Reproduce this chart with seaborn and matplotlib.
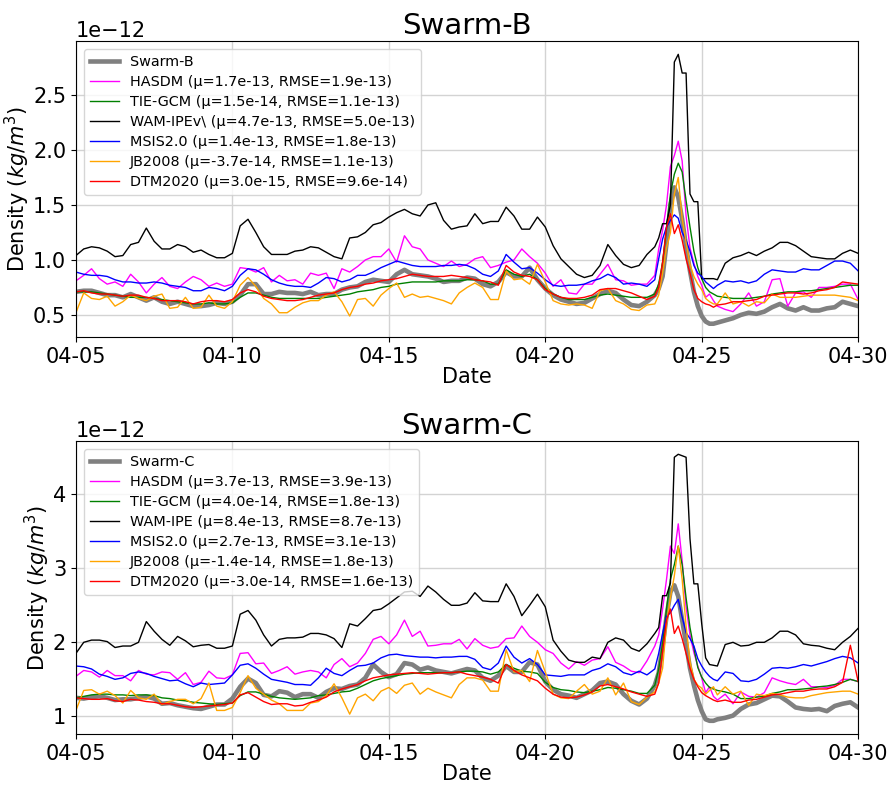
import numpy as np
import pandas as pd
import matplotlib
matplotlib.use("Agg")
import matplotlib.pyplot as plt
import matplotlib.dates as mdates
from matplotlib.ticker import MultipleLocator
import seaborn as sns

# ---------------- data (values in units of 1e-12 kg/m^3) ----------------
start = pd.Timestamp("2023-04-05")
hours = list(range(0, 444, 6)) + list(range(444, 493, 3)) + list(range(498, 601, 6))
times = start + pd.to_timedelta(hours, unit="h")

swarm_b = [0.71, 0.72, 0.72, 0.70, 0.68, 0.68, 0.66, 0.69, 0.66, 0.63, 0.66, 0.62, 0.60, 0.62, 0.60, 0.58, 0.58, 0.59, 0.61, 0.60, 0.62, 0.68, 0.78, 0.78, 0.69, 0.69, 0.71, 0.70, 0.70, 0.69, 0.71, 0.68, 0.69, 0.69, 0.73, 0.75, 0.76,
           0.80, 0.82, 0.81, 0.80, 0.87, 0.91, 0.87, 0.86, 0.85, 0.83, 0.80, 0.81, 0.81, 0.84, 0.83, 0.78, 0.76, 0.80, 0.89, 0.85, 0.85, 0.93, 0.82, 0.74, 0.68, 0.64, 0.62, 0.60, 0.61, 0.65,
           0.69, 0.72, 0.70, 0.64, 0.59, 0.58, 0.62,
           0.68, 0.74, 0.85, 1.15, 1.50, 1.66, 1.57, 1.37, 1.12, 0.90, 0.71, 0.58, 0.49, 0.44, 0.42, 0.42, 0.43,
           0.45, 0.47, 0.50, 0.52, 0.51, 0.53, 0.57, 0.60, 0.56, 0.54, 0.57, 0.54, 0.54, 0.56, 0.57, 0.62, 0.60, 0.58]
hasdm_b = [0.81, 0.86, 0.92, 0.83, 0.78, 0.80, 0.76, 0.87, 0.80, 0.70, 0.78, 0.84, 0.76, 0.74, 0.80, 0.85, 0.82, 0.76, 0.79, 0.76, 0.78, 0.93, 0.92, 0.89, 0.93, 0.80, 0.86, 0.81, 0.82, 0.78, 0.88, 0.86, 0.88, 0.74, 0.92, 0.89, 0.94,
           1.00, 1.03, 1.03, 1.10, 0.98, 1.22, 1.12, 1.10, 1.00, 0.97, 0.94, 0.99, 0.94, 0.96, 1.01, 1.03, 0.93, 0.95, 0.98, 1.00, 1.10, 1.03, 0.97, 0.88, 0.76, 0.82, 0.70, 0.69, 0.78, 0.78,
           0.87, 0.96, 0.82, 0.81, 0.77, 0.78, 0.78,
           0.86, 1.10, 1.27, 1.50, 1.85, 1.95, 2.08, 1.90, 1.40, 1.11, 0.97, 0.85, 0.77, 0.66, 0.69, 0.63, 0.58,
           0.55, 0.53, 0.60, 0.70, 0.58, 0.62, 0.82, 0.83, 0.58, 0.70, 0.71, 0.66, 0.75, 0.75, 0.76, 0.78, 0.78, 0.64]
tiegcm_b = [0.71, 0.71, 0.71, 0.70, 0.69, 0.68, 0.67, 0.66, 0.66, 0.66, 0.65, 0.64, 0.63, 0.62, 0.61, 0.60, 0.60, 0.61, 0.60, 0.60, 0.61, 0.66, 0.70, 0.70, 0.68, 0.66, 0.65, 0.65, 0.65, 0.65, 0.65, 0.65, 0.66, 0.67, 0.68, 0.69, 0.71,
            0.72, 0.73, 0.75, 0.76, 0.78, 0.79, 0.80, 0.80, 0.80, 0.80, 0.81, 0.81, 0.81, 0.82, 0.82, 0.81, 0.78, 0.78, 0.91, 0.87, 0.85, 0.87, 0.82, 0.74, 0.69, 0.66, 0.64, 0.64, 0.64, 0.66,
            0.68, 0.69, 0.68, 0.67, 0.66, 0.66, 0.66,
            0.69, 0.78, 0.98, 1.28, 1.60, 1.78, 1.88, 1.80, 1.54, 1.30, 1.08, 0.93, 0.83, 0.75, 0.71, 0.69, 0.67,
            0.66, 0.65, 0.65, 0.65, 0.66, 0.67, 0.69, 0.70, 0.71, 0.71, 0.72, 0.72, 0.73, 0.74, 0.75, 0.76, 0.77, 0.77]
wam_b = [1.04, 1.10, 1.12, 1.11, 1.08, 1.03, 1.04, 1.14, 1.16, 1.29, 1.17, 1.10, 1.10, 1.14, 1.12, 1.07, 1.09, 1.05, 1.02, 1.02, 1.06, 1.31, 1.37, 1.25, 1.12, 1.05, 1.05, 1.05, 1.08, 1.09, 1.12, 1.11, 1.07, 1.03, 1.01, 1.20, 1.21,
         1.25, 1.32, 1.34, 1.39, 1.43, 1.46, 1.42, 1.40, 1.50, 1.52, 1.36, 1.28, 1.30, 1.31, 1.42, 1.33, 1.35, 1.35, 1.48, 1.40, 1.28, 1.28, 1.39, 1.30, 1.13, 1.01, 0.94, 0.87, 0.84, 0.86,
         0.95, 1.14, 1.04, 0.96, 0.93, 0.95, 1.05,
         1.12, 1.20, 1.33, 1.33, 1.50, 2.80, 2.87, 2.70, 2.70, 1.60, 1.53, 1.53, 0.83, 0.83, 0.83, 0.83, 0.82,
         0.97, 1.02, 1.04, 1.07, 1.04, 1.08, 1.11, 1.16, 1.16, 1.13, 1.08, 1.03, 1.02, 1.01, 1.01, 1.06, 1.09, 1.06]
msis_b = [0.89, 0.87, 0.86, 0.86, 0.85, 0.82, 0.80, 0.80, 0.79, 0.79, 0.80, 0.79, 0.77, 0.76, 0.75, 0.72, 0.72, 0.75, 0.74, 0.72, 0.76, 0.86, 0.92, 0.91, 0.87, 0.82, 0.79, 0.77, 0.76, 0.76, 0.75, 0.79, 0.84, 0.83, 0.80, 0.82, 0.86,
          0.86, 0.89, 0.93, 0.96, 0.99, 0.97, 0.95, 0.94, 0.94, 0.94, 0.95, 0.95, 0.96, 0.95, 0.92, 0.87, 0.85, 0.90, 1.05, 0.98, 0.92, 0.93, 0.88, 0.82, 0.77, 0.76, 0.77, 0.77, 0.78, 0.81,
          0.83, 0.87, 0.84, 0.78, 0.79, 0.78, 0.76,
          0.82, 1.01, 1.19, 1.30, 1.36, 1.41, 1.38, 1.25, 1.18, 1.08, 0.95, 0.88, 0.85, 0.80, 0.77, 0.74, 0.77,
          0.81, 0.80, 0.81, 0.79, 0.81, 0.87, 0.91, 0.90, 0.89, 0.89, 0.92, 0.91, 0.91, 0.95, 0.99, 0.99, 0.97, 0.90]
jb_b = [0.52, 0.70, 0.65, 0.64, 0.67, 0.58, 0.62, 0.68, 0.65, 0.63, 0.67, 0.69, 0.56, 0.57, 0.66, 0.56, 0.57, 0.68, 0.58, 0.56, 0.62, 0.77, 0.84, 0.76, 0.65, 0.60, 0.52, 0.52, 0.57, 0.61, 0.63, 0.63, 0.68, 0.71, 0.62, 0.49, 0.64,
        0.65, 0.58, 0.68, 0.74, 0.79, 0.66, 0.69, 0.66, 0.67, 0.65, 0.63, 0.60, 0.70, 0.75, 0.79, 0.75, 0.64, 0.64, 0.90, 0.82, 0.83, 0.78, 0.96, 0.80, 0.63, 0.60, 0.59, 0.60, 0.59, 0.56,
        0.72, 0.74, 0.63, 0.60, 0.55, 0.54, 0.59,
        0.60, 0.68, 0.88, 1.11, 1.25, 1.60, 1.75, 1.38, 1.16, 0.96, 0.85, 0.78, 0.73, 0.65, 0.62, 0.60, 0.60,
        0.70, 0.60, 0.62, 0.58, 0.62, 0.61, 0.69, 0.66, 0.66, 0.66, 0.67, 0.68, 0.68, 0.68, 0.68, 0.67, 0.66, 0.63]
dtm_b = [0.71, 0.72, 0.70, 0.69, 0.69, 0.68, 0.67, 0.68, 0.68, 0.66, 0.65, 0.63, 0.63, 0.63, 0.62, 0.60, 0.62, 0.63, 0.63, 0.62, 0.64, 0.70, 0.73, 0.71, 0.67, 0.65, 0.64, 0.63, 0.63, 0.64, 0.66, 0.68, 0.69, 0.70, 0.73, 0.75, 0.76,
         0.78, 0.79, 0.81, 0.82, 0.83, 0.85, 0.87, 0.86, 0.85, 0.85, 0.85, 0.86, 0.85, 0.84, 0.82, 0.81, 0.80, 0.77, 0.95, 0.89, 0.86, 0.85, 0.82, 0.73, 0.69, 0.66, 0.65, 0.65, 0.66, 0.68,
         0.73, 0.74, 0.74, 0.72, 0.70, 0.67, 0.64,
         0.67, 0.75, 0.98, 1.30, 1.42, 1.24, 1.32, 1.18, 1.01, 0.88, 0.73, 0.65, 0.62, 0.60, 0.59, 0.57, 0.59,
         0.60, 0.62, 0.62, 0.63, 0.64, 0.67, 0.68, 0.69, 0.70, 0.70, 0.69, 0.70, 0.72, 0.73, 0.75, 0.80, 0.79, 0.78]

swarm_c = [1.25, 1.24, 1.26, 1.27, 1.25, 1.22, 1.23, 1.23, 1.25, 1.27, 1.24, 1.17, 1.18, 1.15, 1.13, 1.11, 1.10, 1.13, 1.16, 1.16, 1.24, 1.40, 1.51, 1.45, 1.29, 1.27, 1.34, 1.32, 1.26, 1.30, 1.30, 1.25, 1.33, 1.38, 1.37, 1.41, 1.43,
           1.52, 1.70, 1.60, 1.53, 1.57, 1.72, 1.70, 1.63, 1.66, 1.62, 1.60, 1.58, 1.61, 1.64, 1.62, 1.52, 1.48, 1.55, 1.68, 1.60, 1.60, 1.73, 1.70, 1.47, 1.36, 1.30, 1.28, 1.25, 1.30, 1.35,
           1.45, 1.47, 1.43, 1.30, 1.21, 1.16, 1.24,
           1.42, 1.59, 1.95, 2.35, 2.68, 2.77, 2.62, 2.30, 1.98, 1.65, 1.42, 1.22, 1.07, 0.96, 0.94, 0.94, 0.96,
           0.98, 1.01, 1.10, 1.16, 1.18, 1.23, 1.28, 1.27, 1.20, 1.12, 1.10, 1.09, 1.10, 1.07, 1.14, 1.17, 1.19, 1.12]
hasdm_c = [1.54, 1.62, 1.60, 1.53, 1.62, 1.55, 1.55, 1.48, 1.62, 1.57, 1.56, 1.60, 1.59, 1.50, 1.59, 1.43, 1.46, 1.61, 1.52, 1.51, 1.56, 1.85, 1.86, 1.71, 1.72, 1.58, 1.62, 1.67, 1.57, 1.60, 1.62, 1.60, 1.52, 1.70, 1.78, 1.67, 1.72,
           1.85, 2.04, 2.08, 1.98, 2.10, 2.30, 2.08, 2.15, 1.95, 1.96, 1.98, 1.98, 2.04, 1.91, 2.05, 1.96, 1.92, 1.94, 2.05, 2.06, 2.22, 2.08, 2.00, 1.90, 1.85, 1.72, 1.64, 1.74, 1.69, 1.76,
           1.78, 1.94, 1.73, 1.68, 1.61, 1.59, 1.75,
           1.95, 2.10, 2.45, 2.85, 3.30, 3.20, 3.60, 3.10, 2.48, 2.10, 1.86, 1.68, 1.52, 1.32, 1.40, 1.27, 1.22,
           1.30, 1.17, 1.33, 1.27, 1.26, 1.32, 1.52, 1.48, 1.45, 1.43, 1.50, 1.40, 1.40, 1.39, 1.42, 1.50, 1.50, 1.47]
tiegcm_c = [1.25, 1.27, 1.29, 1.30, 1.30, 1.29, 1.29, 1.28, 1.29, 1.29, 1.28, 1.25, 1.24, 1.22, 1.21, 1.19, 1.18, 1.17, 1.16, 1.17, 1.18, 1.28, 1.33, 1.33, 1.30, 1.27, 1.25, 1.24, 1.23, 1.24, 1.25, 1.28, 1.29, 1.31, 1.33, 1.34, 1.38,
            1.43, 1.48, 1.51, 1.53, 1.55, 1.57, 1.58, 1.59, 1.59, 1.59, 1.59, 1.59, 1.60, 1.61, 1.61, 1.60, 1.57, 1.60, 1.70, 1.65, 1.61, 1.60, 1.58, 1.46, 1.39, 1.36, 1.35, 1.33, 1.32, 1.34,
            1.36, 1.39, 1.38, 1.36, 1.34, 1.31, 1.31,
            1.42, 1.64, 1.98, 2.45, 2.85, 3.05, 3.30, 3.05, 2.60, 2.20, 1.92, 1.66, 1.53, 1.45, 1.39, 1.37, 1.35,
            1.33, 1.30, 1.24, 1.24, 1.26, 1.27, 1.31, 1.33, 1.36, 1.36, 1.37, 1.38, 1.40, 1.41, 1.43, 1.46, 1.50, 1.47]
wam_c = [1.85, 2.00, 2.03, 2.03, 2.01, 1.93, 1.95, 1.95, 2.00, 2.28, 2.15, 2.04, 1.96, 2.08, 2.02, 1.94, 1.96, 1.97, 1.92, 1.92, 1.95, 2.38, 2.43, 2.30, 2.10, 1.95, 2.04, 2.06, 2.06, 2.07, 2.12, 2.12, 2.10, 2.05, 1.93, 2.25, 2.22,
         2.32, 2.43, 2.45, 2.52, 2.60, 2.68, 2.69, 2.62, 2.76, 2.68, 2.58, 2.50, 2.50, 2.53, 2.67, 2.56, 2.55, 2.55, 2.79, 2.62, 2.36, 2.50, 2.65, 2.48, 2.03, 1.88, 1.76, 1.73, 1.73, 1.80,
         1.78, 2.00, 2.06, 2.03, 1.92, 1.88, 1.98,
         2.12, 2.20, 2.63, 2.63, 2.80, 4.50, 4.54, 4.52, 4.50, 3.40, 2.79, 2.79, 2.25, 1.79, 1.70, 1.69, 1.68,
         1.97, 2.00, 1.95, 1.96, 2.00, 2.00, 2.06, 2.15, 2.15, 2.10, 1.98, 1.96, 1.95, 1.92, 1.90, 2.00, 2.08, 2.19]
msis_c = [1.68, 1.67, 1.64, 1.57, 1.54, 1.50, 1.52, 1.58, 1.60, 1.58, 1.54, 1.51, 1.48, 1.49, 1.44, 1.40, 1.45, 1.43, 1.44, 1.45, 1.56, 1.69, 1.71, 1.65, 1.57, 1.50, 1.48, 1.46, 1.43, 1.43, 1.42, 1.52, 1.65, 1.58, 1.55, 1.62, 1.68,
          1.69, 1.72, 1.79, 1.83, 1.84, 1.82, 1.81, 1.80, 1.80, 1.79, 1.80, 1.80, 1.81, 1.81, 1.77, 1.66, 1.63, 1.72, 1.95, 1.80, 1.72, 1.78, 1.70, 1.56, 1.55, 1.54, 1.56, 1.56, 1.56, 1.62,
          1.65, 1.71, 1.67, 1.59, 1.56, 1.61, 1.56,
          1.64, 1.85, 2.12, 2.35, 2.40, 2.50, 2.58, 2.34, 2.13, 2.05, 1.95, 1.78, 1.68, 1.60, 1.54, 1.50, 1.48,
          1.60, 1.58, 1.48, 1.47, 1.50, 1.57, 1.65, 1.66, 1.65, 1.67, 1.70, 1.68, 1.71, 1.74, 1.78, 1.81, 1.79, 1.72]
jb_c = [1.08, 1.35, 1.36, 1.30, 1.34, 1.28, 1.18, 1.35, 1.25, 1.23, 1.30, 1.16, 1.20, 1.23, 1.23, 1.17, 1.24, 1.45, 1.08, 1.08, 1.12, 1.32, 1.55, 1.38, 1.30, 1.22, 1.17, 1.08, 1.08, 1.08, 1.18, 1.20, 1.28, 1.44, 1.25, 1.03, 1.25,
        1.30, 1.21, 1.34, 1.39, 1.31, 1.42, 1.45, 1.30, 1.38, 1.33, 1.29, 1.25, 1.43, 1.52, 1.52, 1.49, 1.34, 1.34, 1.90, 1.60, 1.62, 1.47, 1.89, 1.60, 1.30, 1.25, 1.24, 1.34, 1.43, 1.30,
        1.34, 1.52, 1.29, 1.45, 1.20, 1.16, 1.26,
        1.33, 1.45, 1.65, 2.25, 2.60, 2.90, 3.30, 2.85, 2.22, 1.74, 1.50, 1.42, 1.38, 1.30, 1.35, 1.40, 1.29,
        1.40, 1.30, 1.34, 1.15, 1.30, 1.28, 1.31, 1.29, 1.26, 1.25, 1.25, 1.28, 1.30, 1.32, 1.33, 1.34, 1.34, 1.30]
dtm_c = [1.25, 1.24, 1.23, 1.23, 1.24, 1.21, 1.20, 1.23, 1.22, 1.20, 1.19, 1.17, 1.17, 1.15, 1.13, 1.12, 1.13, 1.14, 1.15, 1.16, 1.18, 1.29, 1.32, 1.26, 1.20, 1.16, 1.17, 1.17, 1.14, 1.15, 1.19, 1.22, 1.26, 1.33, 1.37, 1.40, 1.43,
         1.48, 1.52, 1.54, 1.56, 1.57, 1.58, 1.59, 1.58, 1.57, 1.58, 1.59, 1.59, 1.60, 1.57, 1.55, 1.53, 1.50, 1.45, 1.70, 1.62, 1.56, 1.52, 1.48, 1.38, 1.30, 1.26, 1.25, 1.26, 1.29, 1.33,
         1.41, 1.43, 1.40, 1.37, 1.33, 1.30, 1.27,
         1.30, 1.45, 1.88, 2.30, 2.45, 2.12, 2.22, 2.05, 1.85, 1.65, 1.50, 1.40, 1.32, 1.28, 1.25, 1.22, 1.20,
         1.22, 1.19, 1.19, 1.22, 1.23, 1.26, 1.29, 1.30, 1.32, 1.34, 1.34, 1.36, 1.37, 1.37, 1.40, 1.46, 1.96, 1.47]

labels_b = ["Swarm-B",
            "HASDM (μ=1.7e-13, RMSE=1.9e-13)",
            "TIE-GCM (μ=1.5e-14, RMSE=1.1e-13)",
            "WAM-IPEv\\ (μ=4.7e-13, RMSE=5.0e-13)",
            "MSIS2.0 (μ=1.4e-13, RMSE=1.8e-13)",
            "JB2008 (μ=-3.7e-14, RMSE=1.1e-13)",
            "DTM2020 (μ=3.0e-15, RMSE=9.6e-14)"]
labels_c = ["Swarm-C",
            "HASDM (μ=3.7e-13, RMSE=3.9e-13)",
            "TIE-GCM (μ=4.0e-14, RMSE=1.8e-13)",
            "WAM-IPE (μ=8.4e-13, RMSE=8.7e-13)",
            "MSIS2.0 (μ=2.7e-13, RMSE=3.1e-13)",
            "JB2008 (μ=-1.4e-14, RMSE=1.8e-13)",
            "DTM2020 (μ=-3.0e-14, RMSE=1.6e-13)"]
colors = ["gray", "magenta", "green", "black", "blue", "orange", "red"]
widths = [3.3, 1.0, 1.0, 1.0, 1.0, 1.0, 1.0]

series_b = [swarm_b, hasdm_b, tiegcm_b, wam_b, msis_b, jb_b, dtm_b]
series_c = [swarm_c, hasdm_c, tiegcm_c, wam_c, msis_c, jb_c, dtm_c]
for s in series_b + series_c:
    assert len(s) == len(times), len(s)

# ---------------- plot ----------------
plt.rcParams["font.family"] = ["DejaVu Sans"]
fig = plt.figure(figsize=(8.93, 7.86), dpi=100)
ax_b = fig.add_axes([0.085, 0.571, 0.876, 0.377])
ax_c = fig.add_axes([0.085, 0.066, 0.876, 0.373])

def draw(ax, series, labels, title, step):
    for vals, lab, col, lw in zip(series, labels, colors, widths):
        df = pd.DataFrame({"time": times, "density": np.array(vals) * 1e-12})
        sns.lineplot(data=df, x="time", y="density", ax=ax, color=col,
                     linewidth=lw, label=lab)
    ax.set_xlim(pd.Timestamp("2023-04-05"), pd.Timestamp("2023-04-30"))
    ax.xaxis.set_major_locator(mdates.DayLocator(bymonthday=[5, 10, 15, 20, 25, 30]))
    ax.xaxis.set_major_formatter(mdates.DateFormatter("%m-%d"))
    ax.yaxis.set_major_locator(MultipleLocator(step))
    ax.grid(True, color="#d3d3d3", linewidth=1.0)
    ax.set_axisbelow(True)
    ax.tick_params(labelsize=15)
    ax.yaxis.get_offset_text().set_fontsize(15)
    ax.set_xlabel("Date", fontsize=15, labelpad=0)
    ax.set_ylabel("Density ($kg/m^3$)", fontsize=15, labelpad=1)
    ax.set_title(title, fontsize=21, pad=5)
    ax.legend(loc="upper left", fontsize=10.4, labelspacing=0.42,
              borderaxespad=0.55)

draw(ax_b, series_b, labels_b, "Swarm-B", 0.5e-12)
draw(ax_c, series_c, labels_c, "Swarm-C", 1e-12)

fig.savefig("out.png", dpi=100)
